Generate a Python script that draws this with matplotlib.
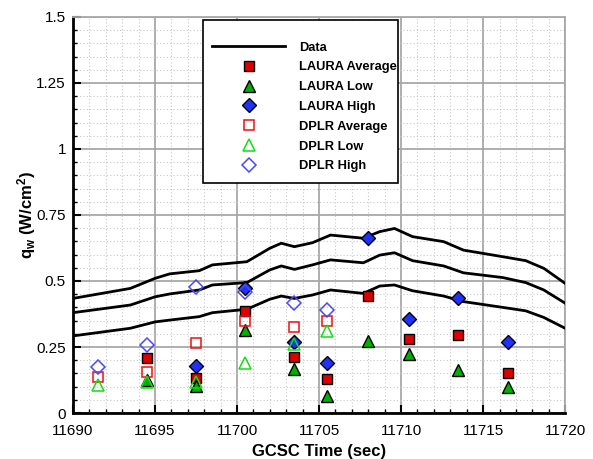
import matplotlib
matplotlib.use("Agg")
import matplotlib.pyplot as plt
from matplotlib.ticker import MultipleLocator, FuncFormatter
from matplotlib.patches import Rectangle

plt.rcParams['font.family'] = ['Liberation Sans', 'DejaVu Sans']
plt.rcParams['mathtext.fontset'] = 'custom'
plt.rcParams['mathtext.rm'] = 'Liberation Sans:bold'
plt.rcParams['mathtext.it'] = 'Liberation Sans:bold'
plt.rcParams['mathtext.bf'] = 'Liberation Sans:bold'

# Flight data curves
data_time = [11690, 11693.5, 11695, 11695.9, 11697.7, 11698.5, 11700.6, 11702.0,
             11702.7, 11703.5, 11704.6, 11705.7, 11707.7, 11708.7, 11709.6, 11710.7,
             11712.6, 11713.8, 11716.2, 11717.6, 11718.7, 11720]
data_upper = [0.434, 0.472, 0.510, 0.527, 0.539, 0.561, 0.573, 0.624, 0.643, 0.630,
              0.645, 0.674, 0.662, 0.687, 0.699, 0.668, 0.649, 0.617, 0.592, 0.577,
              0.548, 0.491]
data_middle = [0.380, 0.409, 0.440, 0.451, 0.466, 0.485, 0.494, 0.542, 0.557, 0.544,
               0.561, 0.580, 0.569, 0.598, 0.607, 0.577, 0.557, 0.531, 0.513, 0.494,
               0.466, 0.416]
data_lower = [0.292, 0.321, 0.345, 0.352, 0.365, 0.380, 0.393, 0.431, 0.443, 0.434,
              0.447, 0.466, 0.453, 0.481, 0.485, 0.463, 0.443, 0.422, 0.400, 0.387,
              0.362, 0.321]

# LAURA predictions
laura_time = [11694.5, 11697.5, 11700.5, 11703.5, 11705.5, 11708, 11710.5, 11713.5, 11716.5]
laura_avg = [0.208, 0.133, 0.388, 0.212, 0.130, 0.442, 0.279, 0.294, 0.152]
laura_low = [0.125, 0.102, 0.316, 0.165, 0.064, 0.274, 0.222, 0.162, 0.098]
laura_high_time = [11697.5, 11700.5, 11703.5, 11705.5, 11708, 11710.5, 11713.5, 11716.5]
laura_high = [0.179, 0.472, 0.270, 0.188, 0.662, 0.355, 0.437, 0.269]

# DPLR predictions
dplr_time = [11691.5, 11694.5, 11697.5, 11700.5, 11703.5, 11705.5]
dplr_avg = [0.135, 0.155, 0.266, 0.347, 0.327, 0.347]
dplr_low = [0.105, 0.117, 0.117, 0.188, 0.261, 0.311]
dplr_high = [0.175, 0.256, 0.478, 0.457, 0.417, 0.389]

yticks = [0, 0.25, 0.5, 0.75, 1, 1.25, 1.5]

fig = plt.figure(figsize=(5.93, 4.59), dpi=100)
ax = fig.add_axes([0.123, 0.1002, 0.830, 0.8628])

ax.plot(data_time, data_upper, color='black', lw=2, label='Data', zorder=3)
ax.plot(data_time, data_middle, color='black', lw=2, zorder=3)
ax.plot(data_time, data_lower, color='black', lw=2, zorder=3)

ax.plot(laura_time, laura_avg, ls='none', marker='s', ms=7, mfc='#dd0000', mec='black',
        mew=1, label='LAURA Average', zorder=4)
ax.plot(laura_time, laura_low, ls='none', marker='^', ms=8, mfc='#00b000', mec='black',
        mew=1, label='LAURA Low', zorder=4)
ax.plot(laura_high_time, laura_high, ls='none', marker='D', ms=7, mfc='#2030ff', mec='black',
        mew=1, label='LAURA High', zorder=4)
ax.plot(dplr_time, dplr_avg, ls='none', marker='s', ms=7, mfc='none', mec='#ee1010',
        mew=1.1, label='DPLR Average', zorder=4)
ax.plot(dplr_time, dplr_low, ls='none', marker='^', ms=8, mfc='none', mec='#10e010',
        mew=1.1, label='DPLR Low', zorder=4)
ax.plot(dplr_time, dplr_high, ls='none', marker='D', ms=7, mfc='none', mec='#4848ff',
        mew=1.1, label='DPLR High', zorder=4)

ax.set_xlim(11690, 11720)
ax.set_ylim(0, 1.5)
ax.xaxis.set_major_locator(MultipleLocator(5))
ax.xaxis.set_minor_locator(MultipleLocator(1))
ax.set_yticks(yticks)
ax.yaxis.set_minor_locator(MultipleLocator(0.05))
ax.yaxis.set_major_formatter(FuncFormatter(lambda v, p: f'{v:g}'))
ax.xaxis.set_major_formatter(FuncFormatter(lambda v, p: f'{v:.0f}'))

ax.grid(which='major', color='#a8a8a8', lw=1.3, ls='-', zorder=0)
ax.grid(which='minor', color='#c8c8c8', lw=0.8, ls=(0, (1, 2)), zorder=0)
ax.set_axisbelow(True)

ax.tick_params(which='major', direction='in', length=6, width=1.5, labelsize=11,
               top=False, right=False)
ax.tick_params(axis='x', which='major', pad=8)
ax.tick_params(axis='y', which='major', pad=5)
ax.tick_params(which='minor', direction='in', length=3, width=1, top=False, right=False)

for s in ['left', 'bottom']:
    ax.spines[s].set_linewidth(2)
    ax.spines[s].set_color('black')
for s in ['top', 'right']:
    ax.spines[s].set_linewidth(1.3)
    ax.spines[s].set_color('#a8a8a8')

ax.set_xlabel('GCSC Time (sec)', fontsize=12, fontweight='bold', labelpad=4)
ax.set_ylabel(r'q$_{\mathregular{w}}$ (W/cm$^{\mathregular{2}}$)', fontsize=12,
              fontweight='bold', labelpad=-1)

# legend frame drawn as a rectangle in axes coordinates
frame = Rectangle((0.2642, 0.5808), 0.3964, 0.4116, transform=ax.transAxes,
                  facecolor='white', edgecolor='black', lw=1.2, zorder=9)
ax.add_patch(frame)

leg = ax.legend(loc='upper left', bbox_to_anchor=(0.2825, 0.938), frameon=False,
                handlelength=5.66, handletextpad=1.05, borderpad=0, labelspacing=0.6,
                prop={'weight': 'bold', 'size': 9.3}, borderaxespad=0)
leg.set_zorder(10)

fig.savefig('out.png', dpi=100)
